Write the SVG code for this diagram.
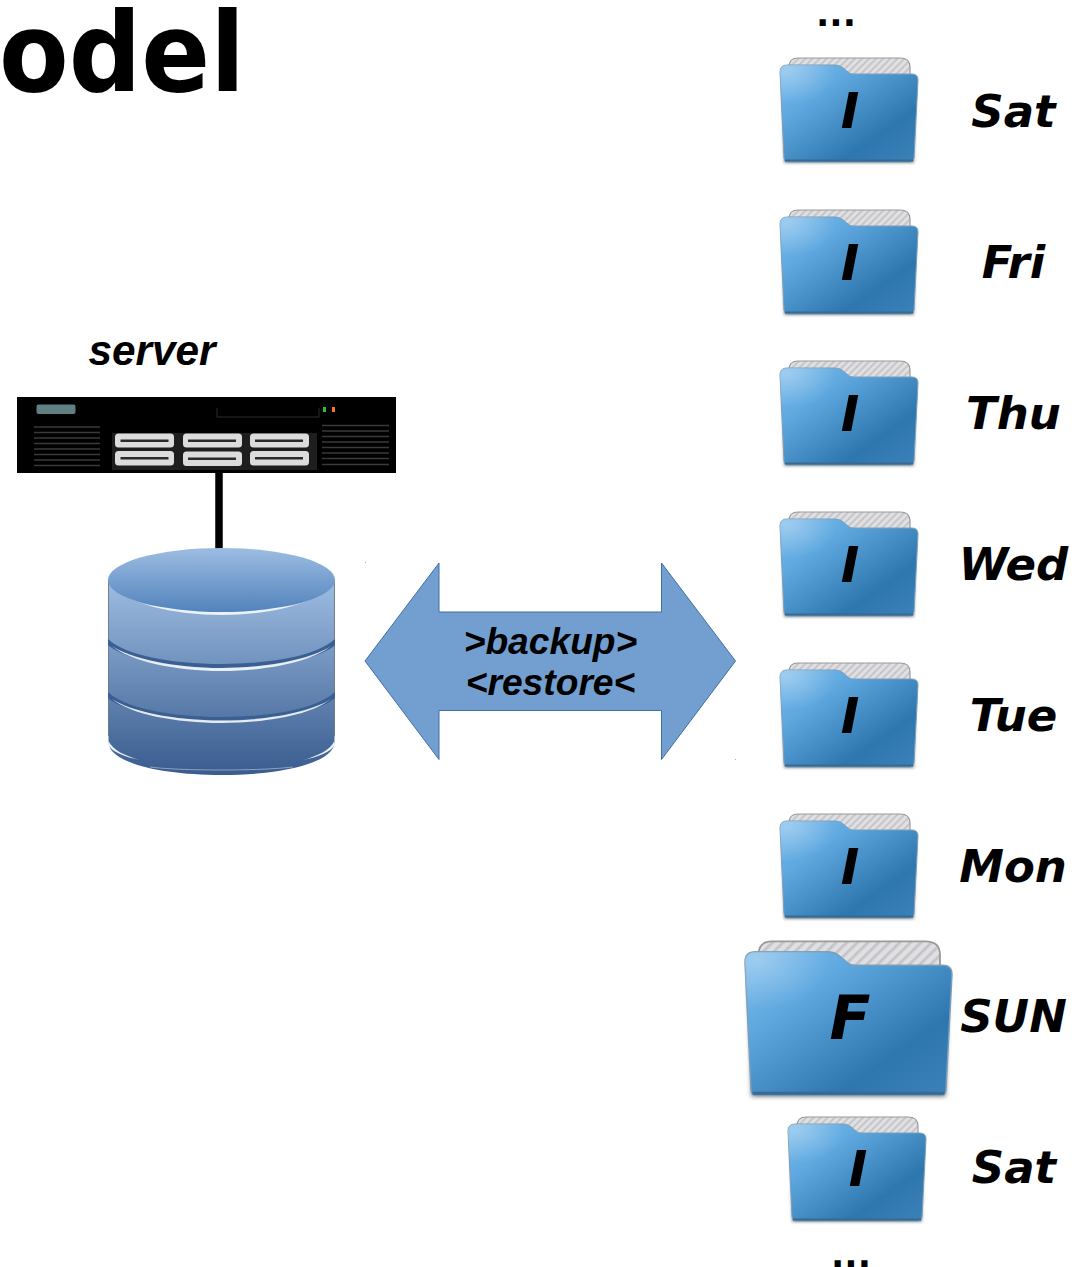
<svg xmlns="http://www.w3.org/2000/svg" width="1084" height="1267" viewBox="0 0 1084 1267">
<style>
.day{font-family:"DejaVu Sans",sans-serif;font-weight:700;font-style:italic;font-size:45px;text-anchor:middle;fill:#000}
.kind{font-family:"DejaVu Sans",sans-serif;font-weight:700;font-style:italic;font-size:50px;text-anchor:middle;fill:#000}
.dots{font-family:"DejaVu Sans",sans-serif;font-weight:700;font-size:35px;text-anchor:middle;fill:#000}
.lib{font-family:"Liberation Sans",Arial,sans-serif;font-weight:700;font-style:italic;fill:#000}
.vent{stroke:#3a3a3a;stroke-width:1.6}
.drive{fill:#dcdcdc}
.slot{fill:#2a2a2a}
</style>
<defs>
<pattern id="hatch" width="5" height="5" patternUnits="userSpaceOnUse" patternTransform="rotate(45)">
<rect width="5" height="5" fill="#e0e0e3"/><rect width="2" height="5" fill="#c6c6ca"/>
</pattern>
<linearGradient id="fold" x1="0" y1="0" x2="1" y2="1">
<stop offset="0" stop-color="#7dbcec"/><stop offset=".28" stop-color="#5fa9e0"/><stop offset=".72" stop-color="#2e76ae"/><stop offset="1" stop-color="#3a82b8"/>
</linearGradient>
<radialGradient id="glow" cx="0.06" cy="0.06" r="0.35">
<stop offset="0" stop-color="#fff" stop-opacity=".28"/><stop offset="1" stop-color="#fff" stop-opacity="0"/>
</radialGradient>
<linearGradient id="dbBody" x1="0" y1="0" x2="0" y2="1">
<stop offset="0" stop-color="#9dbde2"/><stop offset="1" stop-color="#395b8e"/>
</linearGradient>
<linearGradient id="dbTop" x1="0" y1="0" x2="0" y2="1">
<stop offset="0" stop-color="#9dbde2"/><stop offset="1" stop-color="#5283bc"/>
</linearGradient>
<filter id="soft" x="-10%" y="-10%" width="120%" height="120%"><feGaussianBlur stdDeviation="1.5"/></filter>
<g id="folder">
<path d="M784 160H914L916 84H782Z" fill="#444" opacity=".6" filter="url(#soft)" transform="translate(0 3)"/>
<path d="M789 80V67Q789 58 798 58H900Q910 58 910 67V80Z" fill="url(#hatch)" stroke="#9a9a9a" stroke-width="1.2"/>
<path d="M780 72Q780 65 787 65H835Q839 65 842 67L848 72Q850 74 853 74H912Q918 74 918 80L914 158Q914 162 910 162H788Q784 162 784 158Z" fill="url(#fold)" stroke="#7b9fba" stroke-width="1"/>
<path d="M780 72Q780 65 787 65H835Q839 65 842 67L848 72Q850 74 853 74H912Q918 74 918 80L914 158Q914 162 910 162H788Q784 162 784 158Z" fill="url(#glow)"/>
<path d="M785 160.500H913" stroke="#3a6a90" stroke-width="2"/>
</g>
</defs>

<g id="title"><text x="-1" y="91" textLength="246" lengthAdjust="spacingAndGlyphs" font-family="'DejaVu Sans',sans-serif" font-weight="700" font-size="110" fill="#000">odel</text></g>

<g id="connectors"><line x1="219" y1="473" x2="219" y2="550" stroke="#000" stroke-width="7.500"/></g>

<g id="server">
<text class="lib" x="88.500" y="365" font-size="42.300">server</text>
<rect x="17" y="397" width="379" height="76" fill="#000"/>
<rect x="36.500" y="404.500" width="39" height="9.500" rx="2" fill="#5f8080"/>
<path d="M217 408V417H319V408" fill="none" stroke="#2a2a2a" stroke-width="1"/>
<rect x="323" y="407" width="3" height="5" fill="#1fc33a"/>
<rect x="332" y="407" width="3" height="5" fill="#f57c10"/>
<g class="vent">
<path d="M34 427H100M34 432.500H100M34 438H100M34 443.500H100M34 449H100M34 454.500H100M34 460H100M34 465.500H100"/>
<path d="M322 425.500H389M322 431H389M322 436.500H389M322 442H389M322 447.500H389M322 453H389M322 458.500H389M322 464.500H389"/>
</g>
<rect x="112" y="433" width="205" height="37" fill="#1e1e1e"/>
<g>
<rect class="drive" x="115" y="433.500" width="59" height="14" rx="3.500"/><rect class="slot" x="120.500" y="439.500" width="48" height="2.500"/>
<rect class="drive" x="183" y="433.500" width="59" height="14" rx="3.500"/><rect class="slot" x="188" y="439.500" width="48" height="2.500"/>
<rect class="drive" x="250" y="433.500" width="59" height="14" rx="3.500"/><rect class="slot" x="255" y="439.500" width="48" height="2.500"/>
<rect class="drive" x="115" y="451" width="59" height="14.500" rx="3.500"/><rect class="slot" x="120.500" y="457" width="48" height="2.500"/>
<rect class="drive" x="183" y="451.500" width="59" height="14.500" rx="3.500"/><rect class="slot" x="188" y="457.500" width="48" height="2.500"/>
<rect class="drive" x="250" y="451" width="59" height="14.500" rx="3.500"/><rect class="slot" x="255" y="457" width="48" height="2.500"/>
</g>
</g>

<g id="database">
<path d="M108.500 580V742C108.500 762 158 775 221.500 775S334.500 762 334.500 742V580Z" fill="url(#dbBody)"/>
<path d="M108.500 580V736M334.500 580V736" stroke="#5a6a80" stroke-width=".8"/>
<path d="M108 639C125 655 170 664 221.500 664S318 655 335 639V645C318 660 270 668 221.500 668S125 660 108 645Z" fill="#3a5f93"/>
<path d="M112 646C130 661 175 671 221.500 671S313 661 331 646C313 658 270 668 221.500 668S130 658 112 646Z" fill="#fff" opacity=".85"/>
<path d="M108 692C125 708 170 717 221.500 717S318 708 335 692V698C318 713 270 720 221.500 720S125 713 108 698Z" fill="#3a5f93"/>
<path d="M112 699C130 714 175 723 221.500 723S313 714 331 699C313 711 270 720.500 221.500 720.500S130 711 112 699Z" fill="#fff" opacity=".85"/>
<path d="M108.500 741C113 750 125 756 140 760C125 757 112 752 108.500 745Z" fill="#fff" opacity=".9"/>
<path d="M334.500 741C330 750 318 756 303 760C318 757 331 752 334.500 745Z" fill="#fff" opacity=".9"/>
<path d="M150 767C180 771 260 771 293 767" fill="none" stroke="#fff" stroke-width=".7" opacity=".6"/>
<path d="M110 583C125 604 175 615 221.500 615S318 604 333 583C318 600 270 611 221.500 611S125 600 110 583Z" fill="#f4f8fc" opacity=".9"/>
<ellipse cx="221.500" cy="580" rx="113.500" ry="32" fill="url(#dbTop)"/>
</g>

<g id="transfer">
<path d="M365 661L439 563V612H661.500V563L735.500 661L661.500 759.500V710.500H439V759.500Z" fill="#729fcf" stroke="#3f6fa8" stroke-width="1"/>
<text class="lib" x="550.500" y="654" font-size="37.200" text-anchor="middle">&gt;backup&gt;</text>
<text class="lib" x="550.500" y="695" font-size="37.200" text-anchor="middle">&lt;restore&lt;</text>
<rect x="365" y="562" width="1" height="1" fill="#8fb0d6"/>
<rect x="735" y="759" width="1" height="1" fill="#8fb0d6"/>
</g>

<g id="folders">
<text class="dots" x="836" y="26">...</text>
<g id="f-sat1"><use href="#folder"/><text class="kind" x="850" y="128">I</text><text class="day" x="1013.500" y="127">Sat</text></g>
<g id="f-fri"><use href="#folder" transform="translate(0 152)"/><text class="kind" x="850" y="280">I</text><text class="day" x="1013.500" y="278">Fri</text></g>
<g id="f-thu"><use href="#folder" transform="translate(0 303)"/><text class="kind" x="850" y="431">I</text><text class="day" x="1013.500" y="429">Thu</text></g>
<g id="f-wed"><use href="#folder" transform="translate(0 454)"/><text class="kind" x="850" y="582">I</text><text class="day" x="1013.500" y="580">Wed</text></g>
<g id="f-tue"><use href="#folder" transform="translate(0 605)"/><text class="kind" x="850" y="733">I</text><text class="day" x="1013.500" y="731">Tue</text></g>
<g id="f-mon"><use href="#folder" transform="translate(0 756)"/><text class="kind" x="850" y="884">I</text><text class="day" x="1013" y="881.500">Mon</text></g>
<g id="f-sun"><use href="#folder" transform="translate(745 940) scale(1.5 1.48) translate(-780 -57)"/><text class="kind" x="850" y="1039" style="font-size:60px">F</text><text class="day" x="1013.500" y="1032">SUN</text></g>
<g id="f-sat2"><use href="#folder" transform="translate(8 1059)"/><text class="kind" x="858" y="1186">I</text><text class="day" x="1014" y="1183">Sat</text></g>
<text class="dots" x="851" y="1267">...</text>
</g>
</svg>
